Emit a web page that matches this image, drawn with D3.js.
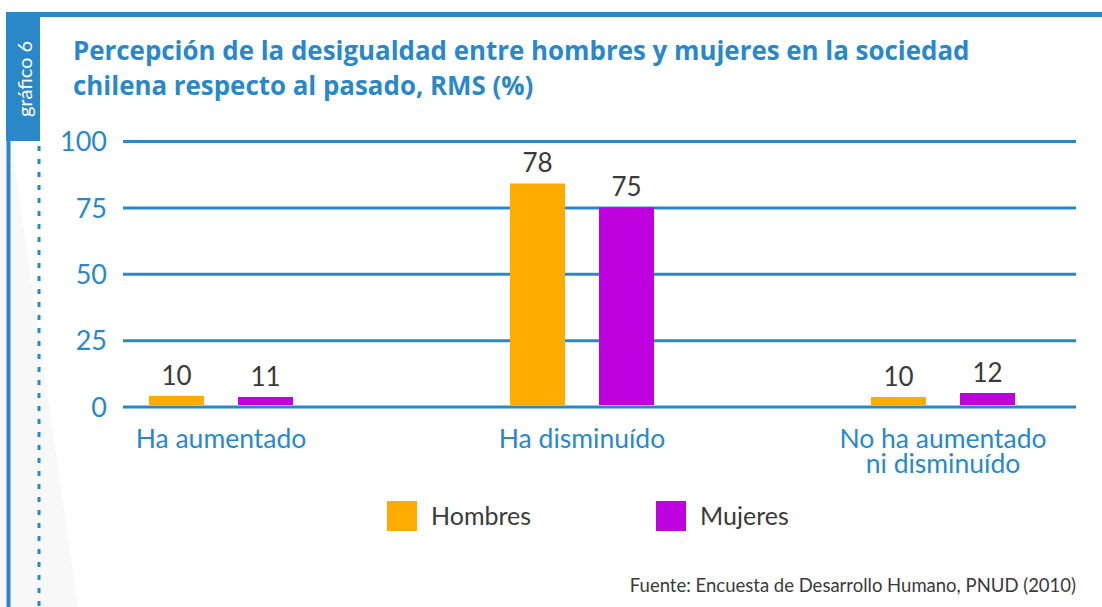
<!DOCTYPE html>
<html>
<head>
<meta charset="utf-8">
<script src="https://cdn.jsdelivr.net/npm/d3@7"></script>
<style>
  body { margin: 0; background: #fff; }
  svg { display: block; }
  text { font-family: Lato, "Open Sans", sans-serif; }
</style>
</head>
<body>
<svg></svg>
<script>
// categories and values
var categories = ["Ha aumentado", "Ha disminuído", "No ha aumentado ni disminuído"];
var categoryLines = [["Ha aumentado"], ["Ha disminuído"], ["No ha aumentado", "ni disminuído"]];
var series = ["Hombres", "Mujeres"];
// bar heights as drawn in the original (they don't follow the printed labels)
var hombres = [4, 84, 3.6];
var mujeres = [3.6, 75, 5.1];
// numbers printed above the bars
var hombresLabels = [10, 78, 10];
var mujeresLabels = [11, 75, 12];
var yTicks = [0, 25, 50, 75, 100];

var width = 1102,
  height = 607,
  blue = "#2a88c9",
  grey = "#3a3a3a";

var color = d3.scaleOrdinal()
  .domain(series)
  .range(["#ffab00", "#be00de"]);

var svg = d3.select("svg")
  .attr("width", width)
  .attr("height", height);

// page shading on the left
svg.append("polygon")
  .attr("points", "0,141 11,141 78,607 0,607")
  .attr("fill", "#f8f8f8");

// frame
svg.append("rect")
  .attr("x", 6).attr("y", 12)
  .attr("width", width - 6).attr("height", 5)
  .attr("fill", blue);
svg.append("rect")
  .attr("x", 6).attr("y", 12)
  .attr("width", 34).attr("height", 129)
  .attr("fill", blue);
svg.append("rect")
  .attr("x", 6.5).attr("y", 141)
  .attr("width", 4).attr("height", height - 141)
  .attr("fill", blue);
svg.append("line")
  .attr("x1", 39).attr("x2", 39)
  .attr("y1", 146).attr("y2", height)
  .attr("stroke", blue)
  .attr("stroke-width", 3)
  .attr("stroke-dasharray", "5,8");

svg.append("text")
  .attr("transform", "translate(31.5,79) rotate(-90)")
  .attr("text-anchor", "middle")
  .attr("fill", "#fff")
  .style("font-size", "20px")
  .text("gráfico 6");

// title, first line fitted to the original's width
var title = svg.append("text")
  .attr("fill", blue)
  .style("font-family", "'Open Sans', sans-serif")
  .style("font-size", "25px")
  .style("font-weight", "bold");
var line1 = title.append("tspan").attr("x", 73).attr("y", 60)
  .text("Percepción de la desigualdad entre hombres y mujeres en la sociedad");
title.append("tspan").attr("x", 73).attr("y", 95)
  .text("chilena respecto al pasado, RMS (%)");
title.style("font-size", (25 * 897 / line1.node().getComputedTextLength()) + "px");

// scales
var plotLeft = 123,
  plotRight = 1076;

var y = d3.scaleLinear()
  .domain([0, 100])
  .range([406.5, 141]);

var x = d3.scalePoint()
  .domain(categories)
  .range([221, 943]);

var xSub = d3.scaleBand()
  .domain(series)
  .range([-72, 72])
  .paddingInner(0.382);

// grid + tick labels
var yAxis = svg.append("g")
  .attr("transform", "translate(" + plotRight + ",0)")
  .call(d3.axisLeft(y)
    .tickValues(yTicks)
    .tickSize(plotRight - plotLeft)
    .tickPadding(16));

yAxis.select(".domain").remove();
yAxis.selectAll(".tick line")
  .attr("stroke", blue)
  .attr("stroke-width", 3);
yAxis.selectAll(".tick text")
  .attr("fill", blue)
  .attr("dy", "0.36em")
  .style("font-family", "Lato, sans-serif")
  .style("font-size", "27px");

// bars
var rows = categories.map(function(c, i) {
  return [
    { cat: c, key: "Hombres", value: hombres[i], label: hombresLabels[i] },
    { cat: c, key: "Mujeres", value: mujeres[i], label: mujeresLabels[i] }
  ];
});

var group = svg.append("g")
  .selectAll("g")
  .data(rows)
  .enter().append("g")
  .attr("transform", function(d) {
    return "translate(" + x(d[0].cat) + ",0)";
  });

group.selectAll("rect")
  .data(function(d) { return d; })
  .enter().append("rect")
  .attr("x", function(d) { return xSub(d.key); })
  .attr("y", function(d) { return y(d.value); })
  .attr("width", xSub.bandwidth())
  .attr("height", function(d) { return y(0) - y(d.value) - 1.5; })
  .attr("fill", function(d) { return color(d.key); });

group.selectAll("text")
  .data(function(d) { return d; })
  .enter().append("text")
  .attr("x", function(d) { return xSub(d.key) + xSub.bandwidth() / 2; })
  .attr("y", function(d) { return y(d.value) - 11; })
  .attr("text-anchor", "middle")
  .attr("fill", grey)
  .style("font-size", "26px")
  .text(function(d) { return d.label; });

// category labels
var catLabel = svg.append("g")
  .selectAll("text")
  .data(categories)
  .enter().append("text")
  .attr("x", function(d) { return x(d); })
  .attr("y", 448)
  .attr("text-anchor", "middle")
  .attr("fill", blue)
  .style("font-size", "26.5px");

catLabel.selectAll("tspan")
  .data(function(d, i) { return categoryLines[i]; })
  .enter().append("tspan")
  .attr("x", function() { return x(this.parentNode.__data__); })
  .attr("dy", function(d, i) { return i ? 25 : 0; })
  .text(function(d) { return d; });

// legend
var legend = svg.append("g")
  .selectAll("g")
  .data(series)
  .enter().append("g")
  .attr("transform", function(d, i) {
    return "translate(" + (387 + i * 269) + ",501)";
  });

legend.append("rect")
  .attr("width", 30)
  .attr("height", 30)
  .attr("fill", function(d) { return color(d); });

legend.append("text")
  .attr("x", 44)
  .attr("y", 24)
  .attr("fill", grey)
  .style("font-size", "25px")
  .text(function(d) { return d; });

// source
svg.append("text")
  .attr("x", 1076)
  .attr("y", 592)
  .attr("text-anchor", "end")
  .attr("fill", grey)
  .style("font-size", "18.5px")
  .text("Fuente: Encuesta de Desarrollo Humano, PNUD (2010)");
</script>
</body>
</html>
